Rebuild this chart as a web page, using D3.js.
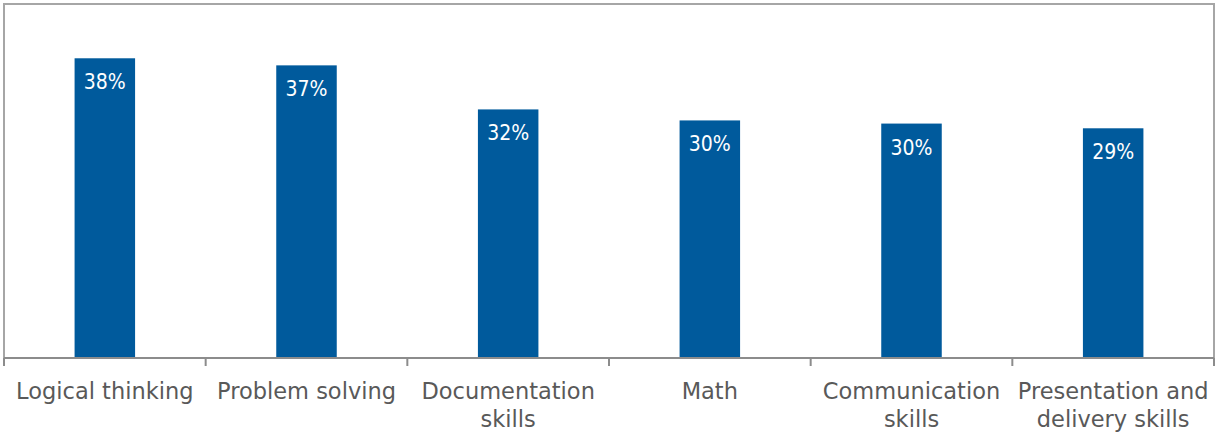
<!DOCTYPE html>
<html lang="en">
<head>
  <meta charset="UTF-8">
  <title>Skills bar chart</title>
  <script src="https://d3js.org/d3.v7.min.js"></script>
  <style>
    body { margin: 0; background: #fff; }
    text { font-family: "DejaVu Sans", sans-serif; }
    .frame { fill: none; stroke: #a6a6a6; stroke-width: 2px; }
    .bar { fill: #005a9c; }
    .value { fill: #fff; font-size: 21px; font-family: "DejaVu Sans Condensed", "DejaVu Sans", sans-serif; }
    .cat { fill: #595959; font-size: 22.5px; }
    .axis line, .axis path { stroke: #8c8c8c; stroke-width: 2px; }
  </style>
</head>
<body>
  <svg width="1217" height="434"></svg>

  <script>
    var categories = [
      ["Logical thinking"],
      ["Problem solving"],
      ["Documentation", "skills"],
      ["Math"],
      ["Communication", "skills"],
      ["Presentation and", "delivery skills"]
    ];
    var values = [38.1, 37.2, 31.6, 30.2, 29.8, 29.2];

    var svg = d3.select("svg");
    var plotLeft = 4, plotRight = 1214, plotTop = 4, plotBottom = 358;

    var x = d3.scaleBand()
        .domain(d3.range(categories.length))
        .range([plotLeft, plotRight])
        .paddingInner(0.7)
        .paddingOuter(0.35);

    var y = d3.scaleLinear()
        .domain([0, 45])
        .range([plotBottom, plotTop]);

    svg.append("rect")
        .attr("class", "frame")
        .attr("x", plotLeft)
        .attr("y", plotTop)
        .attr("width", plotRight - plotLeft)
        .attr("height", plotBottom - plotTop);

    svg.selectAll(".bar")
        .data(values)
        .enter().append("rect")
        .attr("class", "bar")
        .attr("x", function(d, i) { return x(i); })
        .attr("y", function(d) { return y(d); })
        .attr("width", x.bandwidth())
        .attr("height", function(d) { return plotBottom - y(d); });

    svg.selectAll(".value")
        .data(values)
        .enter().append("text")
        .attr("class", "value")
        .attr("text-anchor", "middle")
        .attr("x", function(d, i) { return x(i) + x.bandwidth() / 2; })
        .attr("y", function(d) { return y(d) + 31; })
        .text(function(d) { return d3.format(".0f")(d) + "%"; });

    // category axis: ticks sit between the groups
    var step = (plotRight - plotLeft) / categories.length;
    var edges = d3.range(categories.length + 1).map(function(i) { return plotLeft + i * step; });

    var axis = svg.append("g").attr("class", "axis");
    axis.append("line")
        .attr("x1", plotLeft).attr("x2", plotRight)
        .attr("y1", plotBottom).attr("y2", plotBottom);
    axis.selectAll(".tick")
        .data(edges)
        .enter().append("line")
        .attr("x1", function(d) { return d; })
        .attr("x2", function(d) { return d; })
        .attr("y1", plotBottom)
        .attr("y2", plotBottom + 8);

    var cat = svg.selectAll(".cat")
        .data(categories)
        .enter().append("text")
        .attr("class", "cat")
        .attr("text-anchor", "middle")
        .attr("x", function(d, i) { return x(i) + x.bandwidth() / 2; })
        .attr("y", 398.5);

    cat.selectAll("tspan")
        .data(function(d) { return d; })
        .enter().append("tspan")
        .attr("x", function() { return d3.select(this.parentNode).attr("x"); })
        .attr("dy", function(d, i) { return i === 0 ? 0 : 28; })
        .text(function(d) { return d; });
  </script>
</body>
</html>
